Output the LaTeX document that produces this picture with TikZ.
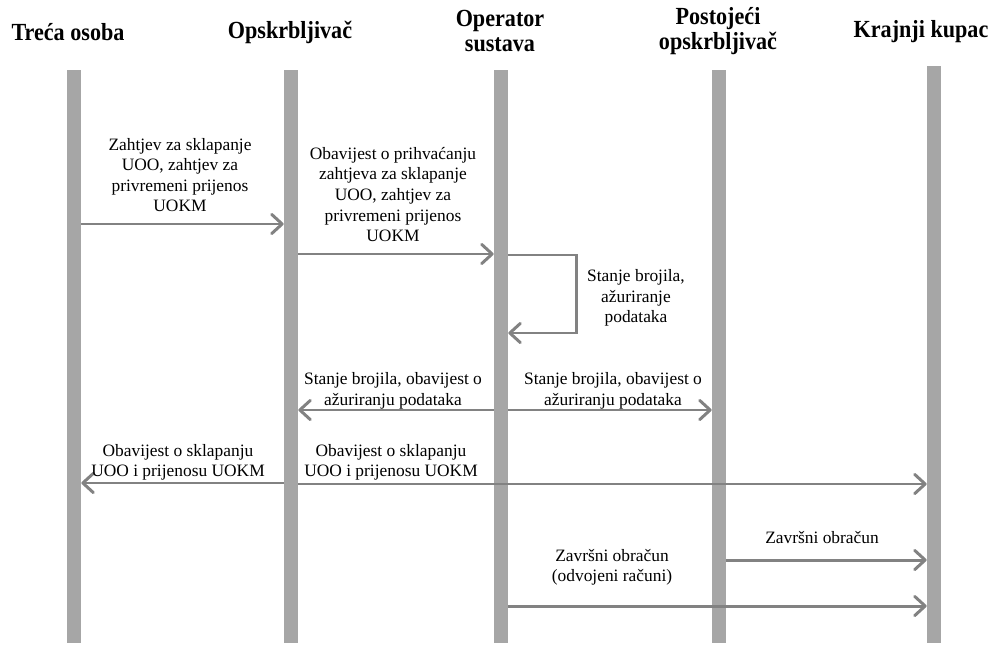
\documentclass[tikz,border=0pt]{standalone}
\usepackage{fontspec}
\setmainfont{Liberation Serif}
\newfontfamily\headfont[FakeStretch=0.9]{Liberation Serif}
\usetikzlibrary{arrows.meta,positioning}
\definecolor{barGray}{HTML}{A6A6A6}
\definecolor{msgGray}{HTML}{828282}
\tikzset{
	lifeline/.style={fill=barGray,inner sep=0pt,minimum width=0.28cm,minimum height=11.46cm},
	msg/.style={draw=msgGray,line width=1.7pt,-{Straight Barb[length=6pt,width=11pt,round]}},
	lbl/.style={align=center,font=\fontsize{9.9}{11.7}\selectfont,inner sep=0pt},
	head/.style={align=center,font=\headfont\bfseries\fontsize{14}{14.7}\selectfont,inner sep=0pt},
}
\begin{document}
\begin{tikzpicture}[x=0.02cm,y=-0.02cm]
	\useasboundingbox (0,0) rectangle (989,645);
	\node[head] (hTreca) at (68,32) {Treća osoba};
	\node[head] (hOpskrb) at (290,32) {Opskrbljivač};
	\node[head] (hOper) at (500,31) {Operator\\sustava};
	\node[head] (hPost) at (718,31) {Postojeći\\opskrbljivač};
	\node[head] (hKupac) at (921,32) {Krajnji kupac};
	\node[lifeline] (treca) at (74,356.5) {};
	\node[lifeline] (opskrb) at (291,356.5) {};
	\node[lifeline] (oper) at (501,356.5) {};
	\node[lifeline] (post) at (719,356.5) {};
	\node[lifeline,minimum height=11.54cm] (kupac) at (934,354.5) {};
	\coordinate (loopA) at (576,255);
	\coordinate (loopB) at (576,333);
	\draw[msg] (treca.east |- 0,224) -- (opskrb.west |- 0,224);
	\node[lbl] (m1) at (180,175) {Zahtjev za sklapanje\\UOO, zahtjev za\\privremeni prijenos\\UOKM};
	\draw[msg] (opskrb.east |- 0,254) -- (oper.west |- 0,254);
	\node[lbl] (m2) at (393,194.5) {Obavijest o prihvaćanju\\zahtjeva za sklapanje\\UOO, zahtjev za\\privremeni prijenos\\UOKM};
	\draw[msg] (oper.east |- loopA) -- (loopA) -- (loopB) -- (oper.east |- loopB);
	\node[lbl] (m3) at (636,298) {Stanje brojila,\\ažuriranje\\podataka};
	\draw[msg] (oper.west |- 0,410) -- (opskrb.east |- 0,410);
	\node[lbl] (m4) at (393,391) {Stanje brojila, obavijest o\\ažuriranju podataka};
	\draw[msg] (oper.east |- 0,410) -- (post.west |- 0,410);
	\node[lbl] (m5) at (613,391) {Stanje brojila, obavijest o\\ažuriranju podataka};
	\draw[msg] (opskrb.west |- 0,483) -- (treca.east |- 0,483);
	\node[lbl] (m6) at (178,462.5) {Obavijest o sklapanju\\UOO i prijenosu UOKM};
	\draw[msg] (opskrb.east |- 0,484) -- (kupac.west |- 0,484);
	\node[lbl] (m7) at (391,462.5) {Obavijest o sklapanju\\UOO i prijenosu UOKM};
	\draw[msg] (post.east |- 0,560) -- (kupac.west |- 0,560);
	\node[lbl] (m8) at (822,538) {Završni obračun};
	\draw[msg] (oper.east |- 0,606) -- (kupac.west |- 0,606);
	\node[lbl] (m9) at (612,567.5) {Završni obračun\\(odvojeni računi)};
\end{tikzpicture}
\end{document}
